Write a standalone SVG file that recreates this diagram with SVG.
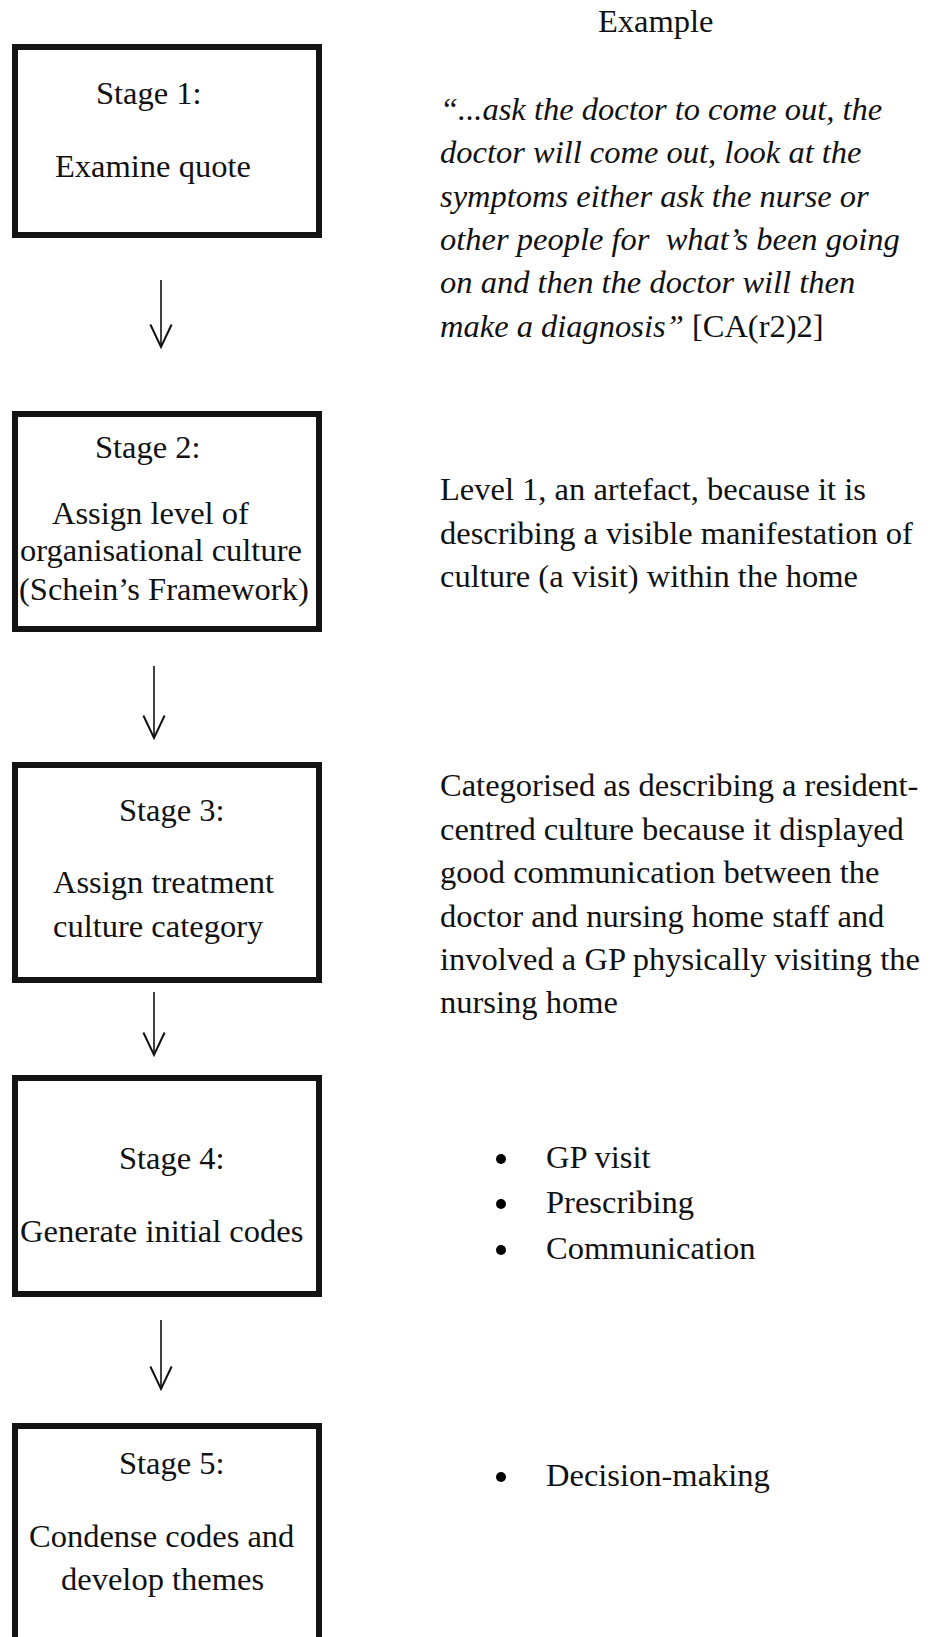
<svg xmlns="http://www.w3.org/2000/svg" width="936" height="1637" viewBox="0 0 936 1637">
<style>
text{font-family:"Liberation Serif","Times New Roman",serif;font-size:32.5px;fill:#111;white-space:pre}
.it{font-style:italic}
.box{fill:none;stroke:#141414;stroke-width:6}
.conn{fill:none;stroke:#111;stroke-width:1.6}
</style>
<defs>
<marker id="ah" markerUnits="userSpaceOnUse" orient="auto" refX="0" refY="0" markerWidth="30" markerHeight="30" viewBox="-20 -12 24 24" overflow="visible">
<path d="M-18,-8.5 L0,0 L-18,8.5" fill="none" stroke="#111" stroke-width="1.6"/>
</marker>
</defs>
<rect width="936" height="1637" fill="#fff"/>
<text x="598" y="32">Example</text>
<g id="stage1">
<rect class="box" x="15" y="47" width="304" height="188"/>
<text x="96" y="104">Stage 1:</text>
<text x="55" y="177">Examine quote</text>
</g>
<g id="example1">
<text class="it" x="440" y="120">“...ask the doctor to come out, the</text>
<text class="it" x="440" y="163.3">doctor will come out, look at the</text>
<text class="it" x="440" y="206.6">symptoms either ask the nurse or</text>
<text class="it" x="440" y="250" xml:space="preserve">other people for  what’s been going</text>
<text class="it" x="440" y="293.3">on and then the doctor will then</text>
<text x="440" y="336.6"><tspan class="it">make a diagnosis”</tspan> [CA(r2)2]</text>
</g>
<g id="stage2">
<rect class="box" x="15" y="414" width="304" height="215"/>
<text x="95" y="458">Stage 2:</text>
<text x="52" y="524">Assign level of</text>
<text x="20" y="561">organisational culture</text>
<text x="19" y="600">(Schein’s Framework)</text>
</g>
<g id="example2">
<text x="440" y="500">Level 1, an artefact, because it is</text>
<text x="440" y="543.5">describing a visible manifestation of</text>
<text x="440" y="587">culture (a visit) within the home</text>
</g>
<g id="stage3">
<rect class="box" x="15" y="765" width="304" height="215"/>
<text x="119" y="821">Stage 3:</text>
<text x="53" y="893">Assign treatment</text>
<text x="53" y="937">culture category</text>
</g>
<g id="example3">
<text x="440" y="796">Categorised as describing a resident-</text>
<text x="440" y="839.5">centred culture because it displayed</text>
<text x="440" y="883">good communication between the</text>
<text x="440" y="926.5">doctor and nursing home staff and</text>
<text x="440" y="970">involved a GP physically visiting the</text>
<text x="440" y="1013">nursing home</text>
</g>
<g id="stage4">
<rect class="box" x="15" y="1078" width="304" height="216"/>
<text x="119" y="1169">Stage 4:</text>
<text x="20" y="1242">Generate initial codes</text>
</g>
<g id="example4">
<circle cx="501" cy="1159" r="5"/>
<text x="546" y="1168">GP visit</text>
<circle cx="501" cy="1204" r="5"/>
<text x="546" y="1213">Prescribing</text>
<circle cx="501" cy="1250" r="5"/>
<text x="546" y="1259">Communication</text>
</g>
<g id="stage5">
<rect class="box" x="15" y="1426" width="304" height="300"/>
<text x="119" y="1474">Stage 5:</text>
<text x="29" y="1547">Condense codes and</text>
<text x="61" y="1590">develop themes</text>
</g>
<g id="example5">
<circle cx="501" cy="1477" r="5"/>
<text x="546" y="1486">Decision-making</text>
</g>
<g id="connectors">
<path class="conn" d="M161,280 L161,347" marker-end="url(#ah)"/>
<path class="conn" d="M154,666 L154,738" marker-end="url(#ah)"/>
<path class="conn" d="M154,992 L154,1055" marker-end="url(#ah)"/>
<path class="conn" d="M161,1320 L161,1389" marker-end="url(#ah)"/>
</g>
</svg>
